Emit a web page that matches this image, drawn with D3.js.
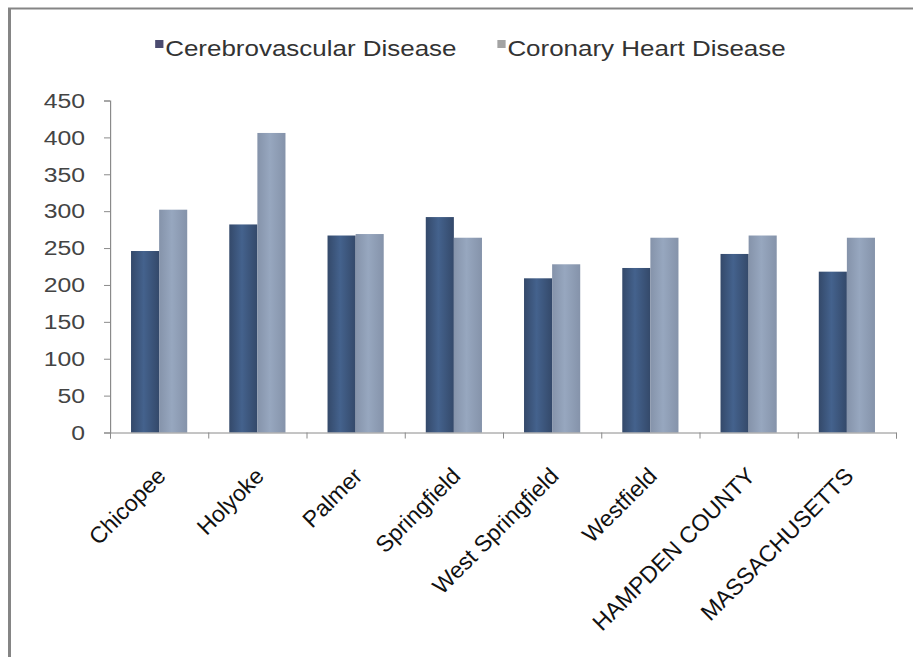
<!DOCTYPE html>
<html>
<head>
<meta charset="utf-8">
<script src="https://cdn.jsdelivr.net/npm/d3@7"></script>
<style>
  body { margin: 0; background: #fff; }
  svg { display: block; font-family: "Liberation Sans", Arial, sans-serif; }
</style>
</head>
<body>
<svg id="chart" width="913" height="657"></svg>
<script>
const categories = ["Chicopee", "Holyoke", "Palmer", "Springfield", "West Springfield",
                    "Westfield", "HAMPDEN COUNTY", "MASSACHUSETTS"];
const seriesNames = ["Cerebrovascular Disease", "Coronary Heart Disease"];
const cerebrovascular = [246, 282, 267, 292, 209, 223, 242, 218];
const coronary = [302, 406, 269, 264, 228, 264, 267, 264];
const yTicks = [0, 50, 100, 150, 200, 250, 300, 350, 400, 450];

// edge / middle shade of each series
const barShades = [["#34496a", "#44628d"], ["#8593aa", "#97a7bf"]];
const legendColors = ["#4b4b70", "#a3a3a3"];

// legend and y labels look stretched sideways, so draw them in a narrower space and widen it
const sx = 1.18;
const svg = d3.select("#chart");

const defs = svg.append("defs");
barShades.forEach((s, i) => {
  const gr = defs.append("linearGradient").attr("id", "bar" + i)
    .attr("x1", 0).attr("x2", 1).attr("y1", 0).attr("y2", 0);
  gr.append("stop").attr("offset", "0%").attr("stop-color", s[0]);
  gr.append("stop").attr("offset", "45%").attr("stop-color", s[1]);
  gr.append("stop").attr("offset", "100%").attr("stop-color", s[0]);
});

// frame: left and top edges only are visible
svg.append("line").attr("x1", 9.5).attr("x2", 9.5).attr("y1", 8).attr("y2", 657)
  .attr("stroke", "#858585").attr("stroke-width", 3);
svg.append("line").attr("x1", 8).attr("x2", 913).attr("y1", 8.5).attr("y2", 8.5)
  .attr("stroke", "#858585").attr("stroke-width", 2);

const g = svg.append("g").attr("transform", `scale(${sx},1)`);

const plotLeft = 110, plotRight = 896;
const plotTop = 100.5, plotBottom = 432.5;

// screen-space scales
const x0 = d3.scaleBand().domain(categories).range([plotLeft, plotRight]).padding(0);
const x1 = d3.scaleBand().domain(seriesNames)
  .range([x0.bandwidth() * 0.214, x0.bandwidth() * 0.786]);
const y = d3.scaleLinear().domain([0, 450]).range([plotBottom, plotTop]);

const rows = categories.map((c, i) => ({ cat: c, vals: [cerebrovascular[i], coronary[i]] }));

// bars
svg.append("g").selectAll(".grp")
  .data(rows)
  .join("g")
  .attr("class", "grp")
  .attr("transform", d => `translate(${x0(d.cat)},0)`)
  .selectAll("rect")
  .data(d => d.vals.map((v, j) => ({ s: seriesNames[j], v, j })))
  .join("rect")
  .attr("x", d => x1(d.s))
  .attr("width", x1.bandwidth())
  .attr("y", d => y(d.v))
  .attr("height", d => y(0) - y(d.v))
  .attr("fill", d => `url(#bar${d.j})`);

// y axis (inside the stretched group)
const yAxis = g.append("g")
  .attr("transform", `translate(${plotLeft / sx},0)`)
  .call(d3.axisLeft(y).tickValues(yTicks).tickSize(6 / sx).tickPadding(19 / sx));
yAxis.select(".domain").attr("stroke", "#8a8a8a");
yAxis.selectAll(".tick line").attr("stroke", "#8a8a8a");
yAxis.selectAll(".tick text")
  .attr("fill", "#444")
  .style("font-size", "21px")
  .style("font-family", "\"Liberation Sans\", Arial, sans-serif");

// x axis: ticks between categories
const idx = d3.scaleLinear().domain([0, categories.length]).range([plotLeft, plotRight]);
const xAxis = svg.append("g")
  .attr("transform", `translate(0,${plotBottom})`)
  .call(d3.axisBottom(idx).ticks(categories.length).tickSize(6).tickFormat(""));
xAxis.select(".domain").attr("stroke", "#8a8a8a");
xAxis.selectAll(".tick line").attr("stroke", "#8a8a8a");

// category labels, rotated
svg.selectAll(".cat")
  .data(categories)
  .join("text")
  .attr("class", "cat")
  .attr("transform", d => `translate(${x0(d) + x0.bandwidth() / 2 + 8},${plotBottom + 45}) rotate(-45)`)
  .attr("text-anchor", "end")
  .style("font-size", "23px")
  .attr("fill", "#111")
  .text(d => d);

// legend
const legendX = [131.5, 421.5];
const leg = g.selectAll(".leg")
  .data(seriesNames)
  .join("g")
  .attr("class", "leg")
  .attr("transform", (d, i) => `translate(${legendX[i]},0)`);
leg.append("rect")
  .attr("x", 0).attr("y", 40)
  .attr("width", 7).attr("height", 8)
  .attr("fill", (d, i) => legendColors[i]);
leg.append("text")
  .attr("x", 8.5).attr("y", 56)
  .style("font-size", "22px")
  .attr("fill", "#333")
  .text(d => d);
</script>
</body>
</html>
